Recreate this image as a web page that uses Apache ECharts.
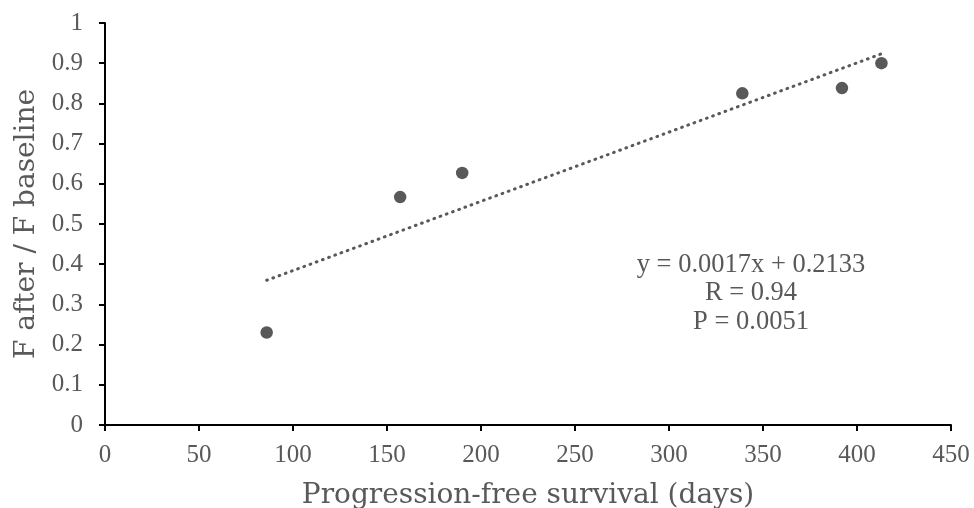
<!DOCTYPE html>
<html>
<head>
<meta charset="utf-8">
<script src="https://cdn.jsdelivr.net/npm/echarts@6/dist/echarts.min.js"></script>
<style>
  html, body { margin: 0; padding: 0; background: #fff; }
  #chart { width: 974px; height: 508px; }
</style>
</head>
<body>
<div id="chart"></div>
<script>
// survival days vs. F ratio
const points = [
    [86, 0.23],
    [157, 0.567],
    [190, 0.627],
    [339, 0.825],
    [392, 0.838],
    [413, 0.9]
];

// linear trend, start and end
const trend = [
    [86, 0.36],
    [414, 0.925]
];

const fitLines = [
    "y = 0.0017x + 0.2133",
    "R = 0.94",
    "P = 0.0051"
];

const textColor = "#595959";
const titleFont = "'DejaVu Serif', 'Liberation Serif', serif";
const numFont = "'Liberation Serif', 'DejaVu Serif', serif";

const chart = echarts.init(document.getElementById("chart"));

chart.setOption({
    backgroundColor: "#fff",
    animation: false,
    textStyle: { fontFamily: numFont },
    grid: { left: 105, right: 23, top: 23, bottom: 83, containLabel: false, outerBoundsMode: "none" },

    xAxis: {
        type: "value",
        min: 0,
        max: 450,
        interval: 50,
        name: "Progression-free survival (days)",
        nameLocation: "middle",
        nameGap: 57,
        nameTextStyle: { fontSize: 28, color: textColor, fontFamily: titleFont },
        axisLine: { onZero: false, lineStyle: { color: "#000", width: 2 } },
        axisTick: { inside: false, length: 6, lineStyle: { color: "#000", width: 2 } },
        axisLabel: { fontSize: 25, color: textColor, margin: 18, fontFamily: numFont },
        splitLine: { show: false }
    },

    yAxis: {
        type: "value",
        min: 0,
        max: 1,
        interval: 0.1,
        name: "F after / F baseline",
        nameLocation: "middle",
        nameGap: 64,
        nameTextStyle: { fontSize: 28, color: textColor, fontFamily: titleFont },
        axisLine: { show: true, lineStyle: { color: "#000", width: 2 } },
        axisTick: { show: true, inside: false, length: 6, lineStyle: { color: "#000", width: 2 } },
        axisLabel: { fontSize: 25, color: textColor, margin: 22, fontFamily: numFont },
        splitLine: { show: false }
    },

    series: [
        {
            name: "trend",
            type: "line",
            data: trend,
            symbol: "none",
            lineStyle: { color: textColor, width: 3, type: [0.8, 5.8], cap: "round" },
            z: 1
        },
        {
            name: "data",
            type: "scatter",
            data: points,
            symbolSize: 12.5,
            itemStyle: { color: textColor, opacity: 1 },
            z: 2
        }
    ],

    graphic: fitLines.map((t, i) => ({
        type: "text",
        x: 751,
        y: 265 + i * 28.5,
        style: {
            text: t,
            fill: textColor,
            font: "26.5px " + numFont,
            align: "center",
            verticalAlign: "middle"
        }
    }))
});
</script>
</body>
</html>
